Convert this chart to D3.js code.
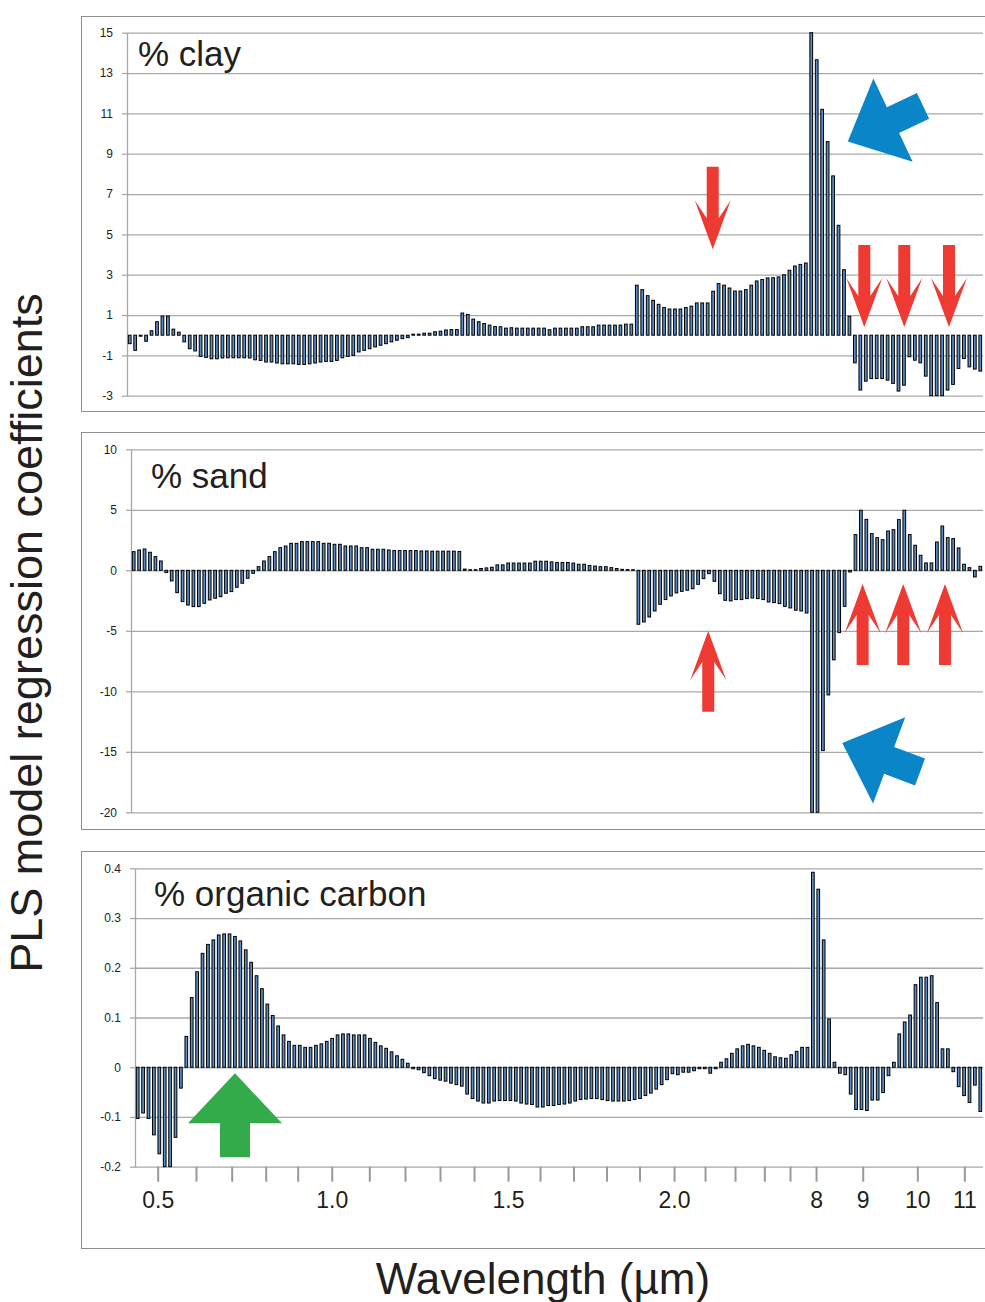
<!DOCTYPE html>
<html>
<head>
<meta charset="utf-8">
<script src="https://cdn.jsdelivr.net/npm/d3@7"></script>
<style>
  body { margin: 0; background: #fff; }
  svg { display: block; font-family: "Liberation Sans", Arial, Helvetica, sans-serif; }
</style>
</head>
<body>
<svg id="chart" width="985" height="1302"></svg>
<script>
// PLS regression coefficients per spectral band (157 bands, VNIR + TIR)
const clay = [
  -0.42,-0.75,-0.05,-0.3,0.22,0.67,0.95,0.95,0.3,0.15,
  -0.33,-0.67,-0.78,-1.05,-1.1,-1.17,-1.17,-1.13,-1.12,-1.12,
  -1.12,-1.12,-1.13,-1.22,-1.25,-1.33,-1.33,-1.38,-1.42,-1.42,
  -1.42,-1.45,-1.45,-1.42,-1.38,-1.33,-1.3,-1.3,-1.25,-1.12,
  -1.05,-1.0,-0.83,-0.75,-0.67,-0.58,-0.5,-0.42,-0.33,-0.25,
  -0.17,-0.12,
  0.05,0.05,0.1,0.1,0.17,0.2,0.26,0.28,0.28,1.1,
  1.03,0.8,0.67,0.58,0.5,0.43,0.42,0.35,0.37,0.35,
  0.35,0.35,0.35,0.35,0.35,0.27,0.35,0.35,0.35,0.35,
  0.35,0.42,0.42,0.42,0.5,0.5,0.5,0.5,0.5,
  0.55,0.55,2.48,2.26,1.96,1.73,1.53,1.37,1.30,1.30,
  1.30,1.37,1.44,1.60,1.60,1.60,2.18,2.56,2.48,2.34,
  2.19,2.19,2.26,2.48,2.69,2.76,2.84,2.85,2.89,3.0,
  3.22,3.43,3.51,3.58,15.0,13.66,11.2,9.6,7.9,5.45,
  3.25,0.94,-1.37,-2.72,-2.28,-2.15,-2.15,-2.15,-2.23,-2.39,
  -2.77,-2.48,-1.07,-1.24,-1.37,-2.03,-3.0,-3.0,-3.0,-2.72,
  -2.44,-1.65,-1.16,-1.57,-1.68,-1.78
];

const sand = [
  1.54,1.68,1.76,1.49,1.13,0.77,-0.19,-0.88,-1.85,-2.59,
  -2.87,-3.0,-3.0,-2.73,-2.45,-2.31,-2.18,-1.9,-1.76,-1.4,
  -1.07,-0.66,-0.25,0.3,0.77,1.13,1.54,1.87,2.01,2.23,
  2.23,2.37,2.37,2.37,2.37,2.23,2.23,2.15,2.15,2.01,
  2.01,2.01,1.87,1.87,1.74,1.74,1.74,1.68,1.63,1.63,
  1.63,1.63,1.63,
  1.6,1.6,1.58,1.58,1.58,1.58,1.58,1.55,
  0.1,0.05,0.05,0.15,0.2,0.25,0.45,0.45,0.6,0.6,
  0.6,0.6,0.6,0.75,0.75,0.75,0.7,0.65,0.65,0.65,
  0.6,0.5,0.5,0.4,0.35,0.3,0.3,0.22,0.15,0.08,
  0.06,0.05,
  -4.46,-4.27,-3.86,-3.36,-2.81,-2.42,-2.12,-1.87,-1.74,-1.65,
  -1.52,-1.16,-0.69,-0.28,-0.91,-1.93,-2.48,-2.53,-2.42,-2.42,
  -2.34,-2.29,-2.34,-2.42,-2.62,-2.67,-2.75,-2.98,-3.11,-3.3,
  -3.36,-3.53,-20,-20,-14.9,-10.3,-7.4,-5.15,-2.98,-0.14,
  2.95,4.96,4.21,3.03,2.7,2.53,3.25,3.36,4.19,4.96,
  2.95,2.07,1.24,0.61,0.61,2.34,3.66,2.7,2.62,1.85,
  0.5,0.22,-0.55,0.33
];

const organicCarbon = [
  -0.103,-0.092,-0.103,-0.136,-0.174,-0.2,-0.2,-0.141,-0.042,0.062,
  0.14,0.192,0.229,0.247,0.256,0.266,0.268,0.268,0.263,0.254,
  0.236,0.211,0.184,0.158,0.127,0.104,0.083,0.065,0.052,0.044,
  0.044,0.04,0.04,0.044,0.047,0.052,0.058,0.065,0.067,0.067,
  0.065,0.065,0.065,0.058,0.05,0.043,0.038,0.031,0.023,0.016,
  0.008,-0.003,-0.005,
  -0.011,-0.017,-0.023,-0.026,-0.028,-0.032,-0.035,-0.038,-0.054,-0.063,
  -0.068,-0.072,-0.072,-0.068,-0.067,-0.067,-0.067,-0.068,-0.072,-0.074,
  -0.075,-0.08,-0.08,-0.077,-0.077,-0.075,-0.074,-0.072,-0.068,-0.065,
  -0.064,-0.063,-0.063,-0.065,-0.067,-0.068,-0.068,-0.068,-0.067,-0.065,
  -0.063,-0.057,-0.052,-0.044,-0.035,-0.025,-0.013,-0.015,-0.01,-0.01,
  -0.007,-0.003,-0.003,-0.012,
  -0.003,0.01,0.017,0.028,0.037,0.043,0.046,0.043,0.04,0.034,
  0.028,0.021,0.019,0.018,0.025,0.032,0.04,0.04,0.392,0.358,
  0.256,0.097,0.01,-0.012,-0.015,-0.054,-0.085,-0.085,-0.087,-0.066,
  -0.066,-0.051,-0.017,0.01,0.067,0.091,0.105,0.166,0.181,0.181,
  0.184,0.13,0.037,0.037,-0.009,-0.039,-0.057,-0.071,-0.036,-0.089
];

// y-axis tick values per panel
const clayTicks = [-3, -1, 1, 3, 5, 7, 9, 11, 13, 15];
const sandTicks = [-20, -15, -10, -5, 0, 5, 10];
const carbonTicks = [-0.2, -0.1, 0, 0.1, 0.2, 0.3, 0.4];

// wavelength ticks (µm) and the band position each falls on
const tickWavelengths = [0.5,0.6,0.7,0.8,0.9,1.0,1.1,1.2,1.3,1.4,1.5,1.6,1.7,1.8,1.9,2.0,2.1,2.2,2.3,2.4,8,9,10,11];
const tickBandPos = [4.20,11.29,17.90,24.20,30.12,36.42,43.38,49.99,56.47,62.77,69.06,74.99,81.19,87.30,93.41,99.80,105.54,111.09,116.52,121.27,126.09,134.73,144.84,153.55];
const tickLabels = ["0.5","","","","","1.0","","","","","1.5","","","","","2.0","","","","","8","9","10","11"];

// annotation arrows, tail -> tip in (band position, coefficient) units
const clayArrows = [
  { kind: "red",  from: [107.43, 8.35], to: [107.43, 4.26] },
  { kind: "red",  from: [135.23, 4.47], to: [135.23, 0.41] },
  { kind: "red",  from: [142.56, 4.47], to: [142.56, 0.41] },
  { kind: "red",  from: [150.76, 4.47], to: [150.76, 0.41] },
  { kind: "blue", from: [146.0, 11.37], to: [132.2, 9.61] }
];
const sandArrows = [
  { kind: "red",  from: [106.37, -11.69], to: [106.37, -5.02] },
  { kind: "red",  from: [134.82, -7.83], to: [134.82, -1.13] },
  { kind: "red",  from: [142.3, -7.83], to: [142.3, -1.13] },
  { kind: "red",  from: [149.99, -7.83], to: [149.99, -1.13] },
  { kind: "blue", from: [145.4, -16.67], to: [131.07, -14.27] }
];
const carbonArrows = [
  { kind: "green", from: [18.51, -0.181], to: [18.51, -0.0123] }
];

const svg = d3.select("#chart");
const N = clay.length;
const plotRight = 983;
const gridColor = "#a8a8a8";
const textColor = "#231f20";

const arrowStyles = {
  red:   { fill: "#ee3a33", shaft: 6,    head: 18, headLen: 49, notch: 18 },
  blue:  { fill: "#0a85c8", shaft: 14.3, head: 46, headLen: 50, notch: 0 },
  green: { fill: "#33ab4a", shaft: 15,   head: 47, headLen: 50, notch: 0 }
};

function arrowPath(p0, p1, st) {
  const dx = p1[0] - p0[0], dy = p1[1] - p0[1];
  const L = Math.hypot(dx, dy);
  const ux = dx / L, uy = dy / L, nx = -uy, ny = ux;
  const P = (t, s) => [p0[0] + ux * t + nx * s, p0[1] + uy * t + ny * s];
  const b = L - st.headLen;
  const pts = [P(0, -st.shaft), P(b + st.notch, -st.shaft), P(b, -st.head), P(L, 0),
               P(b, st.head), P(b + st.notch, st.shaft), P(0, st.shaft)];
  return "M" + pts.map(p => p[0].toFixed(2) + "," + p[1].toFixed(2)).join("L") + "Z";
}

const panels = [
  { name: "% clay", values: clay, ticks: clayTicks, domain: [-3, 15],
    frameTop: 16, frameBottom: 411, left: 127, top: 32.7, bottom: 395.7,
    titleX: 138, titleY: 66, arrows: clayArrows },
  { name: "% sand", values: sand, ticks: sandTicks, domain: [-20, 10],
    frameTop: 432, frameBottom: 829, left: 131, top: 449.3, bottom: 812.3,
    titleX: 151, titleY: 488, arrows: sandArrows },
  { name: "% organic carbon", values: organicCarbon, ticks: carbonTicks, domain: [-0.2, 0.4],
    frameTop: 851, frameBottom: 1248, left: 135, top: 868.3, bottom: 1166.7,
    titleX: 154, titleY: 906, arrows: carbonArrows }
];

panels.forEach((p, pi) => {
  const g = svg.append("g");

  // panel frame (open on the right edge)
  g.append("rect")
    .attr("x", 81.5).attr("y", p.frameTop + 0.5)
    .attr("width", 1000).attr("height", p.frameBottom - p.frameTop)
    .attr("fill", "none").attr("stroke", "#8e8e8e").attr("stroke-width", 1);

  const y = d3.scaleLinear().domain(p.domain).range([p.bottom, p.top]);
  const xb = d3.scaleBand().domain(d3.range(N)).range([p.left, plotRight])
    .paddingInner(0.5).paddingOuter(0.25);
  const xu = d3.scaleLinear().domain([0, N]).range([p.left, plotRight]);

  // horizontal gridlines
  const grid = g.append("g").attr("transform", `translate(${p.left},0)`)
    .call(d3.axisLeft(y).tickValues(p.ticks).tickSize(-(plotRight - p.left)).tickFormat(""));
  grid.select(".domain").remove();
  grid.selectAll(".tick line").attr("stroke", gridColor).attr("stroke-width", 1.3);

  // y axis with labels
  const ax = g.append("g").attr("transform", `translate(${p.left},0)`)
    .call(d3.axisLeft(y).tickValues(p.ticks).tickSize(5).tickSizeOuter(0).tickPadding(9)
      .tickFormat(d => String(+d.toFixed(2))));
  ax.select(".domain").attr("stroke", gridColor).attr("stroke-width", 1.3);
  ax.selectAll(".tick line").attr("stroke", gridColor).attr("stroke-width", 1.3);
  ax.selectAll(".tick text").attr("fill", textColor)
    .style("font-size", "12px").style("font-family", '"Liberation Sans", Arial, sans-serif');

  // bars
  const clipId = "clip" + pi;
  g.append("clipPath").attr("id", clipId).append("rect")
    .attr("x", p.left).attr("y", p.top - 1)
    .attr("width", plotRight - p.left + 2).attr("height", p.bottom - p.top + 2);

  g.append("g").attr("clip-path", `url(#${clipId})`)
    .selectAll("rect").data(p.values).join("rect")
    .attr("x", (d, i) => xb(i))
    .attr("width", xb.bandwidth())
    .attr("y", d => Math.min(y(d), y(0)))
    .attr("height", d => Math.abs(y(d) - y(0)))
    .attr("fill", "#5a8dc8")
    .attr("stroke", "#000")
    .attr("stroke-width", 1);

  // panel title
  g.append("text").attr("x", p.titleX).attr("y", p.titleY)
    .attr("fill", textColor).style("font-size", "35px").text(p.name);

  // annotation arrows
  g.append("g").selectAll("path").data(p.arrows).join("path")
    .attr("d", a => arrowPath([xu(a.from[0]), y(a.from[1])], [xu(a.to[0]), y(a.to[1])], arrowStyles[a.kind]))
    .attr("fill", a => arrowStyles[a.kind].fill);

  // wavelength axis under the last panel
  if (pi === panels.length - 1) {
    const xa = g.append("g").attr("transform", `translate(0,${p.bottom})`)
      .call(d3.axisBottom(xu).tickValues(tickBandPos).tickSize(15).tickSizeOuter(0).tickPadding(10)
        .tickFormat((d, i) => tickLabels[i]));
    xa.select(".domain").remove();
    xa.selectAll(".tick line").attr("stroke", "#999").attr("stroke-width", 2);
    xa.selectAll(".tick text").attr("fill", textColor)
      .style("font-size", "23px").style("font-family", '"Liberation Sans", Arial, sans-serif');
  }
});

// axis titles
svg.append("text")
  .attr("transform", "translate(42,633) rotate(-90)")
  .attr("text-anchor", "middle").attr("fill", textColor)
  .style("font-size", "45px")
  .text("PLS model regression coefficients");

svg.append("text")
  .attr("x", 543).attr("y", 1294)
  .attr("text-anchor", "middle").attr("fill", textColor)
  .style("font-size", "44px")
  .text("Wavelength (µm)");
</script>
</body>
</html>
